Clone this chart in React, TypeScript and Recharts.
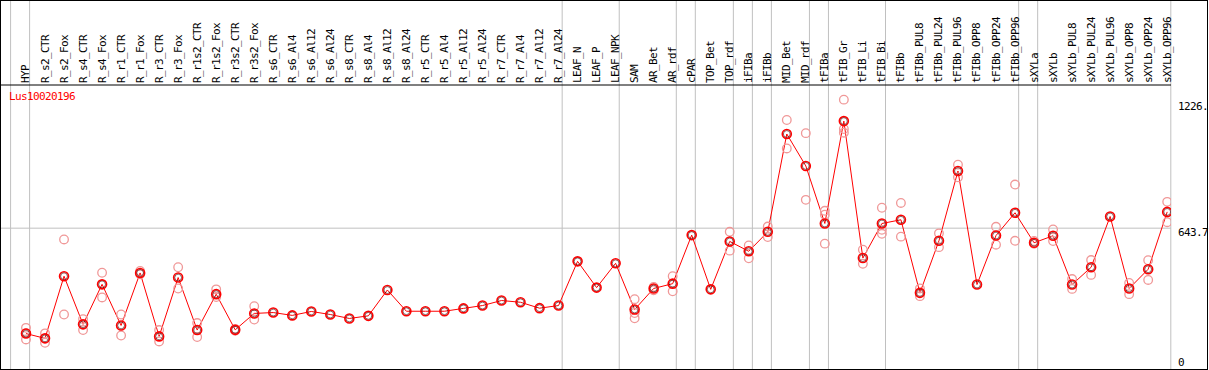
import React from 'react';
import { ComposedChart, Line, XAxis, YAxis, ReferenceLine } from 'recharts';

const categories = [
  'HYP', 'R_s2_CTR', 'R_s2_Fox', 'R_s4_CTR', 'R_s4_Fox', 'R_r1_CTR', 'R_r1_Fox', 'R_r3_CTR', 'R_r3_Fox',
  'R_r1s2_CTR', 'R_r1s2_Fox', 'R_r3s2_CTR', 'R_r3s2_Fox', 'R_s6_CTR', 'R_s6_Al4', 'R_s6_Al12', 'R_s6_Al24',
  'R_s8_CTR', 'R_s8_Al4', 'R_s8_Al12', 'R_s8_Al24', 'R_r5_CTR', 'R_r5_Al4', 'R_r5_Al12', 'R_r5_Al24',
  'R_r7_CTR', 'R_r7_Al4', 'R_r7_Al12', 'R_r7_Al24', 'LEAF_N', 'LEAF_P', 'LEAF_NPK', 'SAM', 'AR_Bet', 'AR_rdf',
  'cPAR', 'TOP_Bet', 'TOP_rdf', 'iFIBa', 'iFIBb', 'MID_Bet', 'MID_rdf', 'tFIBa', 'tFIB_Gr', 'tFIB_Li', 'tFIB_Bi',
  'tFIBb', 'tFIBb_PUL8', 'tFIBb_PUL24', 'tFIBb_PUL96', 'tFIBb_OPP8', 'tFIBb_OPP24', 'tFIBb_OPP96', 'sXYLa',
  'sXYLb', 'sXYLb_PUL8', 'sXYLb_PUL24', 'sXYLb_PUL96', 'sXYLb_OPP8', 'sXYLb_OPP24', 'sXYLb_OPP96',
];

const means = [
  162, 140, 424, 204, 387, 199, 439, 149, 418, 178, 342, 179, 254, 258, 245, 263, 249,
  231, 243, 361, 264, 264, 264, 277, 290, 313, 305, 278, 290, 492, 372, 483, 272, 368, 390,
  612, 364, 583, 538, 627, 1074, 928, 665, 1133, 507, 665, 682, 348, 586, 905, 386, 610, 714, 577,
  609, 386, 465, 697, 368, 456, 718,
];

const rep1 = [
  188, 163, 592, 228, 440, 249, 448, 178, 465, 210, 364, 183, 287, null, null, null, null,
  null, null, null, null, null, null, null, null, null, null, null, null, null, null, null, 319, 375, 424,
  null, null, 627, 565, 651, 1138, 1078, 723, 1231, 545, 737, 759, 368, 620, 934, null, 650, 843, 585,
  638, 411, 498, null, 393, 497, 764,
];

const rep2 = [
  135, 120, 249, 178, 327, 153, 433, 126, 368, 146, 329, 175, 226, null, null, null, null,
  null, null, null, null, null, null, null, null, null, null, null, null, null, null, null, 232, 360, 355,
  null, null, 541, 506, 603, 1008, 773, 573, 1080, 481, 618, 605, 333, 557, 876, null, 568, 586, 572,
  585, 366, 430, null, 342, 407, 671,
];

const rep3 = [
  164, null, null, null, null, null, null, null, null, null, null, null, null, null, null, null, null,
  null, null, null, null, null, null, null, null, null, null, null, null, null, null, null, 256, null, null,
  null, null, null, null, null, null, null, 705, 1097, null, 636, null, null, null, null, null, null, null, null,
  null, null, null, null, null, null, null,
];

// index of the last category of each group (vertical separators drawn after it)
const groupEnds = [-1, 0, 28, 31, 34, 35, 37, 38, 39, 41, 42, 45, 52, 53, 60];

const yTicks = [0, 643.7, 1226];
const yTickLabels = ['0', '643.7', '1226.'];
const yTickDy = [-7, 4, 6];
const seriesName = 'Lus10020196';

const data = categories.map((c, i) => ({
  x: i,
  mean: means[i],
  r1: rep1[i],
  r2: rep2[i],
  r3: rep3[i],
}));

const FONT = "'DejaVu Sans Mono', monospace";

const CatTick = (p: any) => {
  const x = p.x + 3.5;
  const y = 83;
  return (
    <text
      x={x}
      y={y}
      transform={`rotate(-90 ${x} ${y})`}
      fontFamily={FONT}
      fontSize={11}
      letterSpacing={-0.62}
      fill="#000"
      textAnchor="start"
    >
      {categories[p.payload.value]}
    </text>
  );
};

const ValTick = (p: any) => {
  const idx = yTicks.indexOf(p.payload.value);
  return (
    <text
      x={1178}
      y={p.y + yTickDy[idx]}
      fontFamily={FONT}
      fontSize={11}
      letterSpacing={-0.62}
      fill="#000"
      dominantBaseline="central"
      textAnchor="start"
    >
      {yTickLabels[idx]}
    </text>
  );
};

const VLine = (p: any) => (
  <line x1={p.x1} x2={p.x1} y1={0} y2={369} stroke="#c0c0c0" strokeWidth={1} />
);

const RepDot = (p: any) => {
  if (p.value == null || p.cy == null || isNaN(p.cy)) return <g key={`r${p.dataKey}${p.index}`} />;
  return (
    <circle key={`r${p.dataKey}${p.index}`} cx={p.cx} cy={p.cy} r={4.3} fill="none" stroke="#f09898" strokeWidth={1.3} />
  );
};

const MeanDot = (p: any) => {
  if (p.value == null || p.cy == null) return <g key={`m${p.index}`} />;
  return (
    <g key={`m${p.index}`}>
      <circle cx={p.cx} cy={p.cy} r={4.5} fill="none" stroke="#ff0000" strokeWidth={1.6} />
      <circle cx={p.cx} cy={p.cy} r={3.4} fill="none" stroke="#400000" strokeWidth={0.6} />
    </g>
  );
};

export default function App() {
  return (
    <div style={{ position: 'absolute', left: 0, top: 0, width: 1209, height: 370, background: '#fff' }}>
      <ComposedChart width={1209} height={370} data={data} margin={{ top: 0, right: 0, bottom: 1, left: 1 }}>
        <XAxis
          type="number"
          dataKey="x"
          orientation="top"
          height={85}
          domain={[-1.314, 60.2]}
          allowDataOverflow
          ticks={categories.map((_, i) => i)}
          interval={0}
          tick={CatTick}
          tickLine={false}
          axisLine={{ stroke: '#000', strokeWidth: 1 }}
        />
        <YAxis
          type="number"
          orientation="right"
          width={38}
          domain={[0, 1298]}
          allowDataOverflow
          ticks={yTicks}
          interval={0}
          tick={ValTick}
          tickLine={false}
          axisLine={false}
        />
        <ReferenceLine y={643.7} stroke="#c0c0c0" strokeWidth={1} />
        {groupEnds.map((g) => (
          <ReferenceLine key={`g${g}`} x={g + 0.19} stroke="#c0c0c0" shape={VLine} />
        ))}
        <Line dataKey="r1" stroke="none" dot={RepDot} activeDot={false} isAnimationActive={false} />
        <Line dataKey="r2" stroke="none" dot={RepDot} activeDot={false} isAnimationActive={false} />
        <Line dataKey="r3" stroke="none" dot={RepDot} activeDot={false} isAnimationActive={false} />
        <Line dataKey="mean" stroke="#ff0000" strokeWidth={1} dot={MeanDot} activeDot={false} isAnimationActive={false} />
      </ComposedChart>
      <div
        style={{
          position: 'absolute', left: 0, top: 0, width: 1208, height: 370,
          border: '1px solid #000', boxSizing: 'border-box', pointerEvents: 'none',
        }}
      />
      <div
        style={{
          position: 'absolute', left: 9, top: 91, fontFamily: FONT, fontSize: 11,
          letterSpacing: -0.62, lineHeight: '12px', color: '#ff0000', whiteSpace: 'nowrap',
        }}
      >
        {seriesName}
      </div>
    </div>
  );
}
